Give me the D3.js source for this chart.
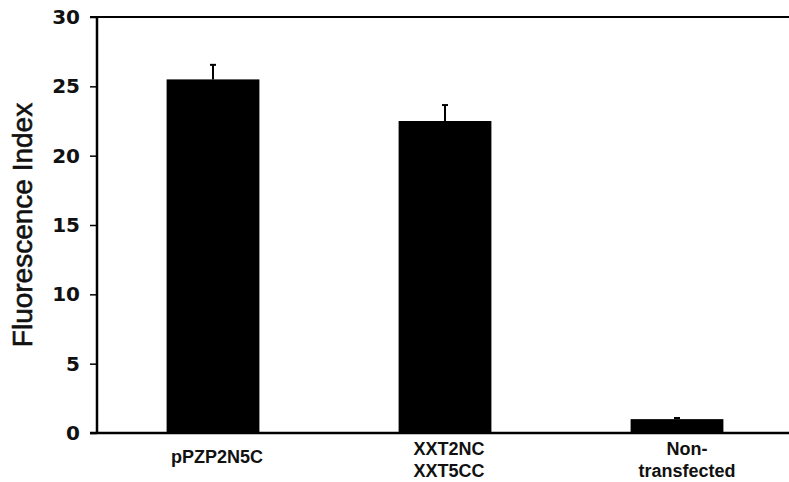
<!DOCTYPE html>
<html><head><meta charset="utf-8">
<script src="https://cdn.jsdelivr.net/npm/d3@7"></script>
<style>body{margin:0;background:#fff}svg{display:block}</style>
</head><body>
<script>
const categories = ["pPZP2N5C", "XXT2NC\nXXT5CC", "Non-\ntransfected"];
const values = [25.5, 22.5, 1.0];
const errors = [1.05, 1.15, 0.08];
const yTicks = [0, 5, 10, 15, 20, 25, 30];
const yLabel = "Fluorescence Index";

const W = 789, H = 482;
const svg = d3.select("body").append("svg").attr("width", W).attr("height", H);

const x = d3.scaleBand().domain(categories).range([97, 793]).paddingInner(0.6).paddingOuter(0.3);
const y = d3.scaleLinear().domain([0, 30]).range([433, 17]);

// bars
svg.selectAll("rect.bar").data(values).enter().append("rect")
  .attr("x", (d, i) => x(categories[i]))
  .attr("width", x.bandwidth())
  .attr("y", d => y(d))
  .attr("height", d => y(0) - y(d))
  .attr("fill", "#000");

// error bars
const eg = svg.append("g").attr("stroke", "#000").attr("stroke-width", 2);
values.forEach((v, i) => {
  const cx = x(categories[i]) + x.bandwidth() / 2;
  eg.append("line").attr("x1", cx).attr("x2", cx).attr("y1", y(v)).attr("y2", y(v + errors[i]));
  eg.append("line").attr("x1", cx - 3).attr("x2", cx + 3).attr("y1", y(v + errors[i])).attr("y2", y(v + errors[i]));
});

// y axis
const yAxis = d3.axisLeft(y).tickValues(yTicks).tickSize(7).tickPadding(10);
const ga = svg.append("g").attr("transform", "translate(97,0)").call(yAxis);
ga.select(".domain").attr("stroke-width", 2.5).attr("d", "M0," + y(30) + "V" + y(0));
ga.selectAll(".tick line").attr("stroke-width", 1.5);
ga.selectAll(".tick text").attr("font-family", "DejaVu Sans").attr("font-weight", "bold")
  .attr("font-size", 20).attr("fill", "#111");

// top line and baseline
svg.append("line").attr("x1", 90).attr("x2", W).attr("y1", y(30)).attr("y2", y(30))
  .attr("stroke", "#000").attr("stroke-width", 2);
svg.append("line").attr("x1", 90).attr("x2", W).attr("y1", y(0)).attr("y2", y(0))
  .attr("stroke", "#000").attr("stroke-width", 2.5);

// category labels
categories.forEach((c, i) => {
  const lines = c.split("\n");
  const cx = x(c) + x.bandwidth() / 2 + (i === 2 ? 10 : 4);
  const t = svg.append("text").attr("text-anchor", "middle")
    .attr("font-family", "Liberation Sans, Arial, sans-serif").attr("font-weight", "bold")
    .attr("font-size", 18).attr("fill", "#111");
  const base = lines.length === 1 ? 463 : 455;
  lines.forEach((l, j) => t.append("tspan").attr("x", cx).attr("y", base + j * 22).text(l));
});

// y label
svg.append("text").attr("transform", "translate(32,225) rotate(-90)")
  .attr("text-anchor", "middle").attr("font-family", "Liberation Sans, Arial, sans-serif")
  .attr("font-size", 28).attr("fill", "#111").attr("stroke", "#111").attr("stroke-width", 0.6)
  .text(yLabel);
</script>
</body></html>
